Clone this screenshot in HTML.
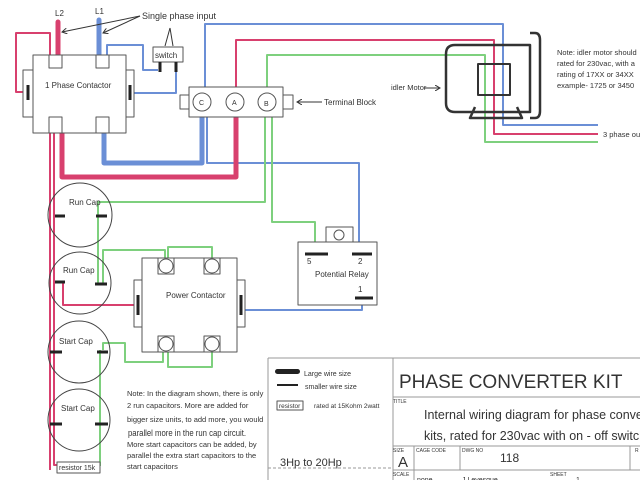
<!DOCTYPE html>
<html><head><meta charset="utf-8"><style>html,body{margin:0;padding:0;background:#fff}svg{display:block}text{font-family:"Liberation Sans",sans-serif;fill:#333}</style></head><body>
<svg width="640" height="480" viewBox="0 0 640 480" xmlns="http://www.w3.org/2000/svg">
<defs><marker id="ar" markerWidth="6" markerHeight="6" refX="5" refY="3" orient="auto"><path d="M0,0 L5,3 L0,6" fill="none" stroke="#333" stroke-width="1"/></marker></defs>
<g fill="none" stroke-linejoin="round">
<!-- thin wires -->
<g stroke="#d8406e" stroke-width="2">
<path d="M28,92 H16 V33 H50 V58"/>
<path d="M236,95 V40 H494 V134 H598"/>
<path d="M50,128 V470"/><path d="M54,128 V465 H58"/>
<path d="M63,282 V305 H137"/>
</g>
<g stroke="#6b8fd6" stroke-width="2">
<path d="M107,60 V45 H143 V70 H158"/>
<path d="M176,70 V93 H131"/>
<path d="M205,95 V24 H503 V125 H598"/>
<path d="M207,110 V163 H359 V254"/>
<path d="M241,310 H362 V298"/>
</g>
<g stroke="#7ed07e" stroke-width="2">
<path d="M267,95 V55 H485 V142 H598"/>
<path d="M265,110 V202 H98 V284"/>
<path d="M272,110 V222 H315 V254"/>
<path d="M103,283 V250 H165 V258"/>
<path d="M168,258 V247 H212 V258"/>
<path d="M103,350 V343 H125 V362 H163 V352"/>
<path d="M168,352 V367 H212 V352"/>
<path d="M100,350 V466"/>
</g>
<!-- thick wires -->
<path d="M58,22 V56" stroke="#d8406e" stroke-width="5" stroke-linecap="round"/>
<path d="M99,20 V60" stroke="#6b8fd6" stroke-width="5" stroke-linecap="round"/>
<path d="M104,130 V163 H202 V110" stroke="#6b8fd6" stroke-width="5"/>
<path d="M62,130 V177 H236 V110" stroke="#d8406e" stroke-width="5"/>
<!-- 1 phase contactor -->
<g stroke="#555" stroke-width="1" fill="#fff">
<rect x="23" y="70" width="10" height="47"/><rect x="126" y="70" width="8" height="47"/>
<rect x="33" y="55" width="93" height="78"/>
<rect x="49" y="55" width="13" height="13"/><rect x="96" y="55" width="13" height="13"/>
<rect x="49" y="117" width="13" height="16"/><rect x="96" y="117" width="13" height="16"/>
<rect x="153" y="47" width="30" height="15"/>
<rect x="180" y="95" width="9" height="14"/><rect x="283" y="95" width="10" height="14"/>
<rect x="189" y="87" width="94" height="30"/>
<circle cx="202" cy="102" r="9"/><circle cx="235" cy="102" r="9"/><circle cx="267" cy="102" r="9"/>
<!-- power contactor -->
<rect x="134" y="280" width="8" height="47"/><rect x="237" y="280" width="8" height="47"/>
<rect x="142" y="258" width="95" height="94"/>
<rect x="158" y="258" width="16" height="16"/><rect x="204" y="258" width="16" height="16"/>
<rect x="158" y="336" width="16" height="16"/><rect x="204" y="336" width="16" height="16"/>
<circle cx="166" cy="266" r="7"/><circle cx="212" cy="266" r="7"/><circle cx="166" cy="344" r="7"/><circle cx="212" cy="344" r="7"/>
<!-- relay -->
<rect x="326" y="227" width="27" height="15"/><circle cx="339" cy="235" r="5"/>
<rect x="298" y="242" width="79" height="63"/>
<rect x="57" y="462" width="43" height="11"/>
</g>
<g stroke="#444" stroke-width="1"><circle cx="80" cy="215" r="32"/><circle cx="80" cy="283" r="31"/><circle cx="79" cy="352" r="31"/><circle cx="79" cy="420" r="31"/></g>
<g stroke="#222" stroke-width="3">
<path d="M28,85 V100"/><path d="M130,85 V100"/><path d="M160,62 V72"/><path d="M176,62 V72"/>
<path d="M138,295 V315"/><path d="M241,295 V315"/>
<path d="M55,216 H65"/><path d="M96,216 H107"/><path d="M55,282 H65"/><path d="M95,284 H107"/>
<path d="M50,352 H62"/><path d="M97,352 H108"/><path d="M50,424 H62"/><path d="M95,424 H108"/>
<path d="M305,254 H328"/><path d="M352,254 H372"/><path d="M355,298 H373"/>
</g>
<!-- motor -->
<g stroke="#333" stroke-width="2.5">
<path d="M455,45 H530 V112 H455 Q446,112 446,103 V54 Q446,45 455,45 Z"/>
<path d="M530,33 H535 Q540,33 540,40 V111 Q540,118 535,118 H530"/>
<path d="M478,64 H510 V95 H478 Z" stroke-width="2"/>
<path d="M475,107 L470,118 H522 L517,107"/>
</g>
<!-- arrows -->
<g stroke="#333" stroke-width="1">
<path d="M140,16 L62,32" marker-end="url(#ar)"/><path d="M140,16 L103,33" marker-end="url(#ar)"/>
<path d="M170,28 L165,46"/><path d="M170,28 L173,46"/>
<path d="M322,102 H297" marker-end="url(#ar)"/>
<path d="M424,88 H440" marker-end="url(#ar)"/>
</g>
<!-- title block -->
<g stroke="#999" stroke-width="1">
<path d="M268,358 H640 M268,358 V480 M393,358 V480 M393,397 H640 M393,446 H640 M393,470 H640 M414,446 V480 M460,446 V470 M630,446 V470"/>
<path d="M268,468 H393" stroke-dasharray="3,2"/>
</g>
<rect x="275" y="369" width="25" height="5" rx="2.5" fill="#222"/>
<path d="M277,385 H298" stroke="#222" stroke-width="2"/>
<rect x="277" y="401" width="26" height="9" stroke="#555" fill="#fff"/>
</g>
<g font-size="8">
<text x="55" y="16">L2</text><text x="95" y="14">L1</text>
<text x="142" y="19" font-size="9">Single phase input</text>
<text x="155" y="58" font-size="8">switch</text>
<text x="45" y="88">1 Phase Contactor</text>
<text x="199" y="105" font-size="7">C</text><text x="232" y="105" font-size="7">A</text><text x="264" y="106" font-size="7">B</text>
<text x="324" y="105">Terminal Block</text>
<text x="391" y="90" font-size="7.5">idler Motor</text>
<g font-size="7.5"><text x="557" y="55">Note: idler motor should</text><text x="557" y="66">rated for 230vac, with a</text><text x="557" y="77">rating of 17XX or 34XX</text><text x="557" y="88">example- 1725 or 3450</text></g>
<text x="603" y="137" font-size="7.5">3 phase ou</text>
<text x="69" y="205">Run Cap</text><text x="63" y="273">Run Cap</text>
<text x="59" y="344">Start Cap</text><text x="61" y="411">Start Cap</text>
<text x="166" y="298">Power Contactor</text>
<text x="307" y="264">5</text><text x="358" y="264">2</text><text x="315" y="277">Potential Relay</text><text x="358" y="292">1</text>
<text x="59" y="470" font-size="7">resistor 15k</text>
<g font-size="7.5"><text x="127" y="396">Note: In the diagram shown, there is only</text><text x="127" y="408">2 run capacitors. More are added for</text><text x="127" y="422">bigger size units, to add more, you would</text><text x="128" y="436" font-size="9" textLength="118" lengthAdjust="spacingAndGlyphs">parallel more in the run cap circuit.</text><text x="127" y="447">More start capacitors can be added, by</text><text x="127" y="458">parallel the extra start capacitors to the</text><text x="127" y="469">start capacitors</text></g>
<text x="304" y="376" font-size="7">Large wire size</text><text x="305" y="389" font-size="7">smaller wire size</text>
<text x="279" y="408" font-size="6.5">resistor</text><text x="314" y="408" font-size="6.5">rated at 15Kohm 2watt</text>
<text x="399" y="388" font-size="19">PHASE CONVERTER KIT</text>
<text x="393" y="403" font-size="5">TITLE</text>
<text x="424" y="419" font-size="12.5">Internal wiring diagram for phase convert</text>
<text x="424" y="440" font-size="12.5">kits, rated for 230vac with on - off switch</text>
<text x="280" y="466" font-size="11">3Hp to 20Hp</text>
<g font-size="5"><text x="393" y="452">SIZE</text><text x="416" y="452">CAGE CODE</text><text x="462" y="452">DWG NO</text><text x="393" y="476">SCALE</text><text x="550" y="476">SHEET</text><text x="635" y="452">R</text></g>
<text x="398" y="467" font-size="15">A</text><text x="500" y="462" font-size="12">118</text>
<text x="417" y="482" font-size="7">none</text><text x="462" y="482" font-size="7">J Levesque</text><text x="576" y="482" font-size="7">1</text>
</g>
</svg>
</body></html>
